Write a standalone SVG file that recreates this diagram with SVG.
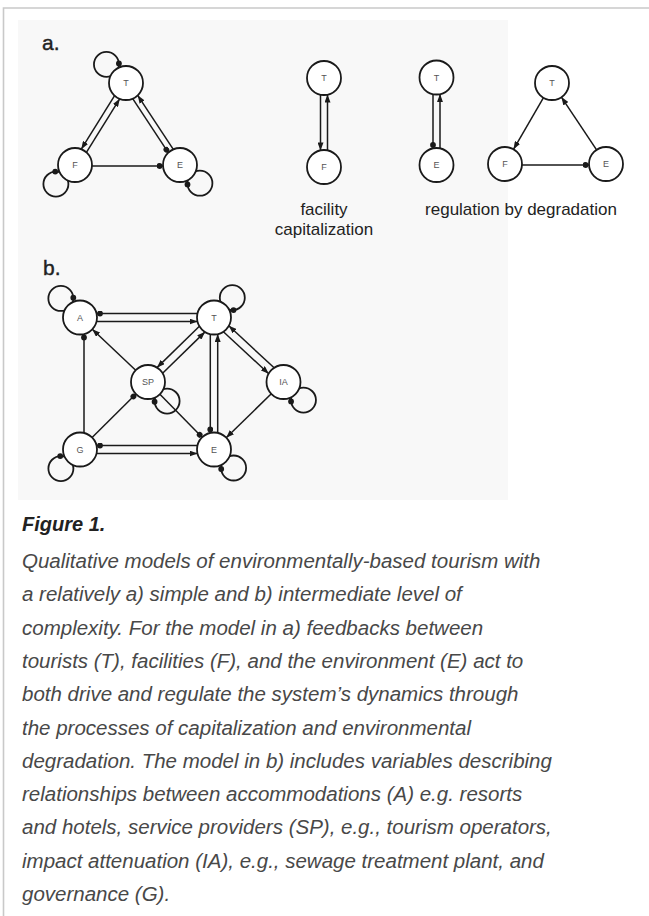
<svg xmlns="http://www.w3.org/2000/svg" width="649" height="916" viewBox="0 0 649 916">
<style>
.bg{fill:#f8f8f8}
.frame{stroke:#c9c9c9;stroke-width:1.6;fill:none}
.node circle{fill:#fff;stroke:#1a1a1a;stroke-width:1.8}
.node text{font-family:"Liberation Sans",Arial,sans-serif;font-size:9px;fill:#555;text-anchor:middle}
.loop{fill:none;stroke:#1a1a1a;stroke-width:1.8}
.ldot{fill:#1a1a1a}
.edge{fill:none;stroke:#1a1a1a;stroke-width:1.5}
.a{marker-end:url(#arr)}
.d{marker-end:url(#dot)}
.panel{font-family:"Liberation Sans",Arial,sans-serif;font-size:21px;fill:#222;stroke:#222;stroke-width:0.4}
.sub{font-family:"Liberation Sans",Arial,sans-serif;font-size:17px;fill:#222;text-anchor:middle}
.fig{font-family:"Liberation Sans",Arial,sans-serif;font-size:20px;font-weight:bold;font-style:italic;fill:#222}
.cap{font-family:"Liberation Sans",Arial,sans-serif;font-size:20.5px;font-style:italic;fill:#484848}
</style>
<defs>
<marker id="arr" viewBox="0 0 8 6" refX="8" refY="3" markerWidth="8" markerHeight="6" markerUnits="userSpaceOnUse" orient="auto"><path d="M0,0 L8,3 L0,6 z" fill="#1a1a1a"/></marker>
<marker id="dot" viewBox="0 0 7 6" refX="6.5" refY="3" markerWidth="7" markerHeight="6" markerUnits="userSpaceOnUse" orient="auto"><circle cx="3" cy="3" r="2.9" fill="#1a1a1a"/></marker>
</defs>
<path class="frame" d="M3.5,916 L3.5,8 L649,8"/>
<rect class="bg" x="18" y="20" width="490" height="480"/>
<text class="panel" x="42" y="50">a.</text>
<text class="panel" x="43" y="275">b.</text>
<g id="connectors">
<circle class="loop" cx="106.45" cy="64.37" r="12.5"/>
<circle class="ldot" cx="118.9" cy="63.4" r="2.9"/>
<circle class="loop" cx="55.9" cy="184.1" r="12.5"/>
<circle class="ldot" cx="55.25" cy="171.6" r="2.9"/>
<circle class="loop" cx="199.9" cy="183.2" r="12.5"/>
<circle class="ldot" cx="187.5" cy="184.4" r="2.9"/>
<path class="edge a" d="M114.6,95.6 L81.3,149.2"/>
<path class="edge a" d="M86.4,152.4 L119.7,98.8"/>
<path class="edge a" d="M173.3,149.4 L137.7,95.3"/>
<path class="edge d" d="M132.7,98.6 L168.3,152.7"/>
<path class="edge d" d="M92,166 L163,166"/>
<path class="edge a" d="M320.5,94.6 L320.5,150.4"/>
<path class="edge a" d="M327.5,150.4 L327.5,94.6"/>
<path class="edge d" d="M433,94.1 L433,148.4"/>
<path class="edge a" d="M440,148.4 L440,94.1"/>
<path class="edge a" d="M543.5,97.7 L513.5,149.3"/>
<path class="edge a" d="M596.6,149.9 L561.4,97.1"/>
<path class="edge d" d="M522,165 L589,165"/>
<circle class="loop" cx="60.86" cy="298.44" r="12.5"/>
<circle class="ldot" cx="73.3" cy="297.75" r="2.9"/>
<circle class="loop" cx="232.3" cy="297.65" r="12.5"/>
<circle class="ldot" cx="233.5" cy="310.1" r="2.9"/>
<circle class="loop" cx="167.1" cy="401.1" r="12.5"/>
<circle class="ldot" cx="154.6" cy="401.75" r="2.9"/>
<circle class="loop" cx="303.45" cy="400.1" r="12.5"/>
<circle class="ldot" cx="291.06" cy="401.4" r="2.9"/>
<circle class="loop" cx="60.9" cy="468.6" r="12.5"/>
<circle class="ldot" cx="60.25" cy="456.1" r="2.9"/>
<circle class="loop" cx="233.6" cy="468" r="12.5"/>
<circle class="ldot" cx="221.2" cy="469" r="2.9"/>
<path class="edge d" d="M197.5,313.5 L96.5,313.5"/>
<path class="edge a" d="M96.5,321.5 L197.5,321.5"/>
<path class="edge a" d="M199.4,326.2 L157,367.6"/>
<path class="edge a" d="M162.6,373.3 L205,331.9"/>
<path class="edge a" d="M135.7,370.3 L92.3,329.2"/>
<path class="edge d" d="M84,433 L84,334"/>
<path class="edge d" d="M92.1,437.5 L135.9,394"/>
<path class="edge d" d="M159.9,394.2 L202.1,437.3"/>
<path class="edge d" d="M197.5,445.5 L96.5,445.5"/>
<path class="edge a" d="M96.5,453.5 L197.5,453.5"/>
<path class="edge d" d="M210.3,334.1 L210.3,432.9"/>
<path class="edge a" d="M217.7,432.9 L217.7,334.1"/>
<path class="edge a" d="M274.1,367.8 L228.8,325.8"/>
<path class="edge a" d="M223.4,331.7 L268.7,373.7"/>
<path class="edge a" d="M271.3,393.8 L226.2,437.7"/>
</g>
<g id="a1-T" class="node"><circle cx="126" cy="83" r="17"/><text x="126" y="86">T</text></g>
<g id="a1-F" class="node"><circle cx="75" cy="165" r="17"/><text x="75" y="168">F</text></g>
<g id="a1-E" class="node"><circle cx="180" cy="165" r="17"/><text x="180" y="168">E</text></g>
<g id="a2-T" class="node"><circle cx="324" cy="78" r="17"/><text x="324" y="81">T</text></g>
<g id="a2-F" class="node"><circle cx="324" cy="167" r="17"/><text x="324" y="170">F</text></g>
<g id="a3-T" class="node"><circle cx="436.5" cy="77.5" r="17"/><text x="436.5" y="80.5">T</text></g>
<g id="a3-E" class="node"><circle cx="436.5" cy="165" r="17"/><text x="436.5" y="168">E</text></g>
<g id="a4-T" class="node"><circle cx="552" cy="83" r="17"/><text x="552" y="86">T</text></g>
<g id="a4-F" class="node"><circle cx="505" cy="164" r="17"/><text x="505" y="167">F</text></g>
<g id="a4-E" class="node"><circle cx="606" cy="164" r="17"/><text x="606" y="167">E</text></g>
<g id="b-A" class="node"><circle cx="80" cy="317.5" r="17"/><text x="80" y="320.5">A</text></g>
<g id="b-T" class="node"><circle cx="214" cy="317.5" r="17"/><text x="214" y="320.5">T</text></g>
<g id="b-SP" class="node"><circle cx="148" cy="382" r="17"/><text x="148" y="385">SP</text></g>
<g id="b-IA" class="node"><circle cx="283.5" cy="382" r="17"/><text x="283.5" y="385">IA</text></g>
<g id="b-G" class="node"><circle cx="80" cy="449.5" r="17"/><text x="80" y="452.5">G</text></g>
<g id="b-E" class="node"><circle cx="214" cy="449.5" r="17"/><text x="214" y="452.5">E</text></g>
<text class="sub" x="324" y="215">facility</text>
<text class="sub" x="324" y="235">capitalization</text>
<text class="sub" x="521" y="215">regulation by degradation</text>
<text class="fig" x="22" y="531">Figure 1.</text>
<text class="cap" x="22" y="568">Qualitative models of environmentally-based tourism with</text>
<text class="cap" x="22" y="601.3">a relatively a) simple and b) intermediate level of</text>
<text class="cap" x="22" y="634.6">complexity. For the model in a) feedbacks between</text>
<text class="cap" x="22" y="667.9">tourists (T), facilities (F), and the environment (E) act to</text>
<text class="cap" x="22" y="701.2">both drive and regulate the system’s dynamics through</text>
<text class="cap" x="22" y="734.5">the processes of capitalization and environmental</text>
<text class="cap" x="22" y="767.8">degradation. The model in b) includes variables describing</text>
<text class="cap" x="22" y="801.1">relationships between accommodations (A) e.g. resorts</text>
<text class="cap" x="22" y="834.4">and hotels, service providers (SP), e.g., tourism operators,</text>
<text class="cap" x="22" y="867.7">impact attenuation (IA), e.g., sewage treatment plant, and</text>
<text class="cap" x="22" y="901">governance (G).</text>
</svg>
